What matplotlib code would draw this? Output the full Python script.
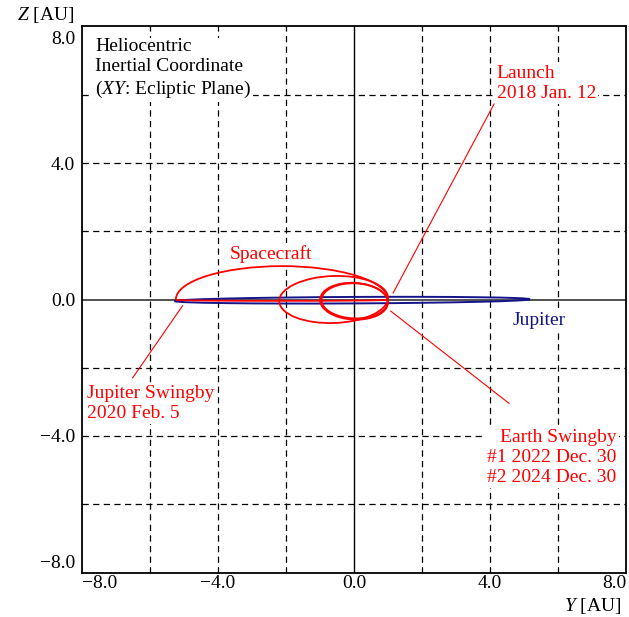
import matplotlib
matplotlib.use('Agg')
import matplotlib.pyplot as plt
from matplotlib.patches import Arc
from matplotlib.transforms import ScaledTranslation

plt.rcParams['font.family'] = ['Liberation Serif', 'DejaVu Serif']
plt.rcParams['mathtext.fontset'] = 'custom'
plt.rcParams['mathtext.rm'] = 'Liberation Serif'
plt.rcParams['mathtext.it'] = 'Liberation Serif:italic'

# Jupiter orbit projected on the Y-Z plane [AU]
jup_center = (-0.05, -0.02)
jup_width = 10.45
jup_height = 0.19

# Spacecraft path pieces as elliptic arcs: centre, size, tilt, start/end angle
sc_cy = [-2.12, -2.12, -0.60, 0.00, 0.02]
sc_cz = [-0.01, 0.00, 0.00, -0.05, -0.04]
sc_w = [6.24, 6.24, 3.20, 2.00, 1.95]
sc_h = [0.06, 1.96, 1.38, 1.08, 1.03]
sc_ang = [0, 0, 2, -3, -2]
sc_t1 = [180, 0, 0, 0, 0]
sc_t2 = [360, 180, 360, 360, 360]

# leader lines from the path to the event labels
lead_y0 = [1.15, -5.04, 1.08]
lead_z0 = [0.19, -0.18, -0.34]
lead_y1 = [4.12, -6.51, 4.56]
lead_z1 = [5.74, -2.30, -3.05]

ticks = [-8.0, -4.0, 0.0, 4.0, 8.0]
grid_pos = [-6, -4, -2, 2, 4, 6]

fig = plt.figure(figsize=(6.29, 6.17), dpi=100)
ax = fig.add_axes([82 / 629, 1 - 573 / 617, 544 / 629, 547 / 617])
ax.set_xlim(-8, 8)
ax.set_ylim(-8.03, 8.03)

for g in grid_pos:
    ax.axvline(g, color='black', lw=0.9, ls=(0, (5, 3.5)), zorder=1)
    ax.axhline(g, color='black', lw=0.9, ls=(0, (5, 3.5)), zorder=1)
ax.axvline(0, color='black', lw=1.0, zorder=1)
ax.axhline(0, color='#333333', lw=1.2, zorder=1)

ax.add_patch(Arc(jup_center, jup_width, jup_height, angle=0.3,
                 color='#14148a', lw=1.4, zorder=2))

for cy, cz, w, h, a, t1, t2 in zip(sc_cy, sc_cz, sc_w, sc_h, sc_ang, sc_t1, sc_t2):
    ax.add_patch(Arc((cy, cz), w, h, angle=a, theta1=t1, theta2=t2,
                     color='red', lw=1.3, zorder=3))

for y0, z0, y1, z1 in zip(lead_y0, lead_z0, lead_y1, lead_z1):
    ax.plot([y0, y1], [z0, z1], color='red', lw=0.8, zorder=3)

fs = 14
box = dict(facecolor='white', edgecolor='none', pad=1.5)
ax.text(-7.62, 6.77, 'Heliocentric\nInertial Coordinate\n($\\mathit{XY}$: Ecliptic Plane)',
        fontsize=fs, ha='left', va='center', linespacing=1.25, bbox=box, zorder=4)
ax.text(4.2, 6.35, 'Launch\n2018 Jan. 12', color='red', fontsize=fs,
        ha='left', va='center', linespacing=1.25, bbox=box, zorder=4)
ax.text(-3.65, 1.33, 'Spacecraft', color='red', fontsize=fs, ha='left', va='center',
        bbox=box, zorder=4)
ax.text(4.68, -0.62, 'Jupiter', color='#14148a', fontsize=fs, ha='left', va='center',
        bbox=box, zorder=4)
ax.text(-7.85, -3.06, 'Jupiter Swingby\n2020 Feb. 5', color='red', fontsize=fs,
        ha='left', va='center', linespacing=1.25, bbox=box, zorder=4)
ax.text(7.72, -4.64, 'Earth Swingby\n#1 2022 Dec. 30\n#2 2024 Dec. 30', color='red',
        fontsize=fs, ha='right', va='center', linespacing=1.25, bbox=box, zorder=4)

ax.set_xticks(ticks)
ax.set_yticks(ticks)
ax.set_xticklabels([f'{t:.1f}'.replace('-', '\u2212') for t in ticks], fontsize=fs)
ax.set_yticklabels([f'{t:.1f}'.replace('-', '\u2212') for t in ticks], fontsize=fs)
ax.tick_params(axis='both', length=0)
ax.tick_params(axis='x', pad=1.5)
ax.tick_params(axis='y', pad=5)
xl = ax.get_xticklabels()
xl[0].set_ha('left')
xl[-1].set_ha('right')
yl = ax.get_yticklabels()
yl[0].set_va('bottom')
yl[-1].set_va('top')
yl[-1].set_transform(yl[-1].get_transform() + ScaledTranslation(0, -3 / 72, fig.dpi_scale_trans))

for sp in ax.spines.values():
    sp.set_linewidth(1.3)

fig.text(74 / 629, 1 - 15 / 617, '$\\mathit{Z}$ [AU]', fontsize=fs, ha='right', va='center')
fig.text(621 / 629, 1 - 606 / 617, '$\\mathit{Y}$ [AU]', fontsize=fs, ha='right', va='center')

fig.savefig('out.png', dpi=100)
